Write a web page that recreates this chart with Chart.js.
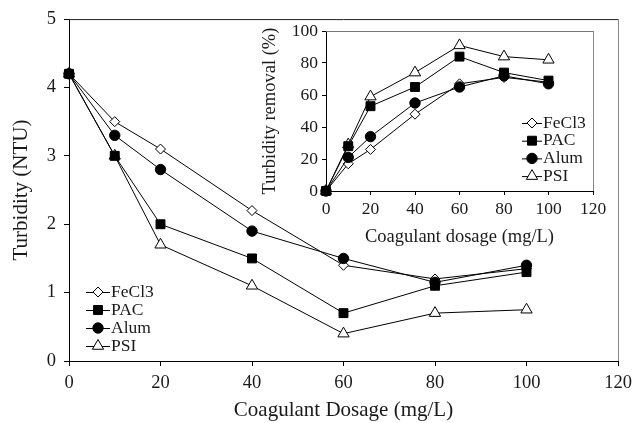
<!DOCTYPE html>
<html>
<head>
<meta charset="utf-8">
<script src="https://cdn.jsdelivr.net/npm/chart.js@4"></script>
<style>
body { margin: 0; background: #fff; }
#wrap { position: relative; width: 643px; height: 423px; }
#main { position: absolute; left: 0; top: 0; }
#inset { position: absolute; left: 240px; top: 10px; }
</style>
</head>
<body>
<div id="wrap">
<canvas id="main" width="643" height="423"></canvas>
<canvas id="inset" width="395" height="240"></canvas>
</div>
<script>
// dosage (mg/L)
const dosage = [0, 10, 20, 40, 60, 80, 100];
const names = ['FeCl3', 'PAC', 'Alum', 'PSI'];

// main plot - turbidity (NTU)
const turbFeCl3 = [4.2, 3.5, 3.1, 2.2, 1.4, 1.2, 1.35];
const turbPAC   = [4.2, 3.0, 2.0, 1.5, 0.7, 1.1, 1.3];
const turbAlum  = [4.2, 3.3, 2.8, 1.9, 1.5, 1.15, 1.4];
const turbPSI   = [4.2, 3.0, 1.7, 1.1, 0.4, 0.7, 0.75];

// inset - turbidity removal (%)
const remFeCl3 = [0, 17, 26, 48, 67, 71, 68];
const remPAC   = [0, 28, 53, 65, 84, 74, 69];
const remAlum  = [0, 21, 34, 55, 65, 72, 67];
const remPSI   = [0, 29, 59, 74, 91, 84, 82];

const serif = 'Liberation Serif';
const ink = '#1a1a1a';

// marker look per series
const styles = {
    FeCl3: { pointStyle: 'rectRot', bg: '#fff', r: 5 },
    PAC:   { pointStyle: 'rect', bg: '#000', r: 6.3 },
    Alum:  { pointStyle: 'circle', bg: '#000', r: 5.2 },
    PSI:   { pointStyle: 'triangle', bg: '#fff', r: 6.5 }
};

function makeSets(values, order) {
    return names.map((n, i) => ({
        label: n,
        data: dosage.map((d, j) => ({ x: d, y: values[i][j] })),
        borderColor: '#000',
        borderWidth: 1,
        pointStyle: styles[n].pointStyle,
        pointRadius: styles[n].r,
        pointBackgroundColor: styles[n].bg,
        pointBorderColor: '#000',
        pointBorderWidth: 1,
        tension: 0,
        clip: false,
        order: order[i]
    }));
}

// box lines on top and right of plot area
const frame = {
    id: 'frame',
    afterDraw(chart, args, opts) {
        const a = chart.chartArea, c = chart.ctx;
        c.save();
        c.lineWidth = 1;
        c.strokeStyle = opts.top;
        c.beginPath(); c.moveTo(a.left, a.top + 0.5); c.lineTo(a.right, a.top + 0.5); c.stroke();
        c.strokeStyle = opts.right;
        c.beginPath(); c.moveTo(a.right + 0.5, a.top); c.lineTo(a.right + 0.5, a.bottom); c.stroke();
        c.restore();
    }
};

// legend with line through marker
const lineLegend = {
    id: 'lineLegend',
    afterDraw(chart, args, opts) {
        const c = chart.ctx;
        c.save();
        c.font = opts.size + 'px "' + serif + '"';
        c.textBaseline = 'middle';
        c.fillStyle = ink;
        chart.data.datasets.forEach((ds, i) => {
            const y = opts.y + i * opts.step;
            c.strokeStyle = '#000';
            c.lineWidth = 1;
            c.beginPath(); c.moveTo(opts.x, y + 0.5); c.lineTo(opts.x + opts.len, y + 0.5); c.stroke();
            c.fillStyle = ds.pointBackgroundColor;
            c.strokeStyle = '#000';
            Chart.helpers.drawPoint(c, { pointStyle: ds.pointStyle, radius: ds.pointRadius, borderWidth: 1 }, opts.x + opts.len / 2, y);
            c.fillStyle = ink;
            c.fillText(ds.label, opts.x + opts.len + 1, y);
        });
        c.restore();
    }
};

function axis(min, max, step, title, font, titlePad, tickPad, size, horizontal) {
    return {
        type: 'linear',
        min: min, max: max,
        ticks: { stepSize: step, color: ink, padding: tickPad, font: { family: serif, size: font } },
        grid: { display: true, drawOnChartArea: false, drawTicks: true, tickLength: 5, color: '#000' },
        border: { display: true, color: '#000', width: 1 },
        title: { display: true, text: title, color: ink, font: { family: serif, size: size }, padding: titlePad },
        afterFit: s => { if (horizontal) s.height = horizontal; }
    };
}

const ctx = document.getElementById('main');
const mainScales = {
    x: axis(0, 120, 20, 'Coagulant Dosage (mg/L)', 18.5, { top: 0, bottom: 0 }, 6, 21, 62),
    y: axis(0, 5, 1, 'Turbidity (NTU)', 18.5, { top: 9, bottom: 0 }, 8, 21, 0)
};
mainScales.y.afterFit = s => { s.width = 69; };
new Chart(ctx, {
    type: 'line',
    data: { datasets: makeSets([turbFeCl3, turbPAC, turbAlum, turbPSI], [2, 1, 0, 3]) },
    options: {
        responsive: false,
        animation: false,
        devicePixelRatio: 1,
        layout: { padding: { top: 18, right: 25, left: 0, bottom: 0 } },
        scales: mainScales,
        plugins: {
            legend: { display: false },
            tooltip: { enabled: false },
            frame: { top: '#222', right: '#888' },
            lineLegend: { x: 86, y: 292, step: 18, len: 24, size: 17.5 }
        }
    },
    plugins: [frame, lineLegend]
});

const ctx2 = document.getElementById('inset');
const insetScales = {
    x: axis(0, 120, 20, 'Coagulant dosage (mg/L)', 17.5, { top: 0, bottom: 2 }, 4, 18.5, 59),
    y: axis(0, 100, 20, 'Turbidity removal (%)', 17.5, { top: 19, bottom: 0 }, 4, 18.5, 0)
};
insetScales.x.grid.tickLength = 4;
insetScales.y.grid.tickLength = 4;
insetScales.y.afterFit = s => { s.width = 86; };
new Chart(ctx2, {
    type: 'line',
    data: { datasets: makeSets([remFeCl3, remPAC, remAlum, remPSI], [2, 0, 1, 3]) },
    options: {
        responsive: false,
        animation: false,
        devicePixelRatio: 1,
        layout: { padding: { top: 21, right: 42, left: 0, bottom: 0 } },
        scales: insetScales,
        plugins: {
            legend: { display: false },
            tooltip: { enabled: false },
            frame: { top: '#777', right: '#888' },
            lineLegend: { x: 282, y: 113, step: 17.7, len: 20, size: 17.5 }
        }
    },
    plugins: [frame, lineLegend]
});
</script>
</body>
</html>
